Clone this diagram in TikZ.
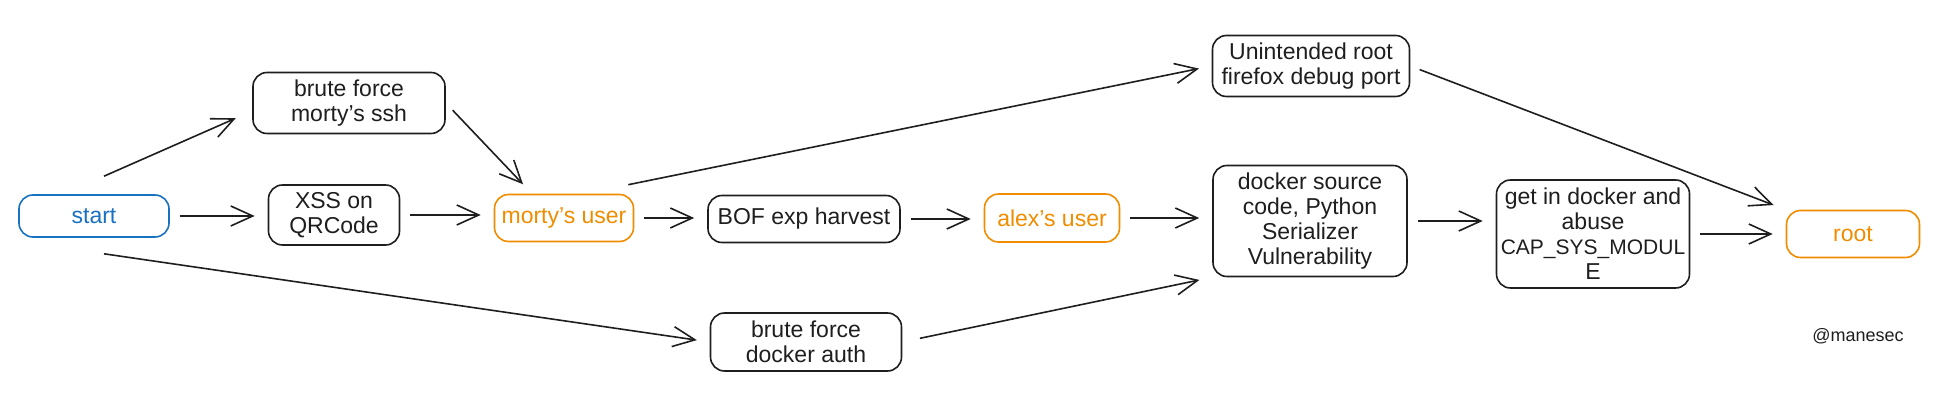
\documentclass[tikz,border=0pt]{standalone}
\usepackage{fontspec}
\setmainfont{Liberation Sans}
\usetikzlibrary{arrows.meta}
\definecolor{ink}{HTML}{1E1E1E}
\definecolor{sketchblue}{HTML}{1971C2}
\definecolor{sketchorange}{HTML}{F08C00}
\tikzset{
	box/.style={draw=ink, text=ink, line width=0.8pt, rounded corners=7pt, align=center, inner sep=2pt, font=\fontsize{11.5}{12.5}\selectfont},
	startbox/.style={box, draw=sketchblue, text=sketchblue},
	userbox/.style={box, draw=sketchorange, text=sketchorange},
	arrow/.style={draw=ink, line width=0.8pt, -{Straight Barb[length=11pt, width=10pt]}, shorten <=5pt, shorten >=6.5pt},
}
\begin{document}
\begin{tikzpicture}[x=0.5pt, y=-0.5pt]
	\useasboundingbox (0,0) rectangle (1938,405);
	\node[startbox, minimum width=75pt, minimum height=21pt] (start) at (94,216) {start};
	\node[box, minimum width=96pt, minimum height=30.5pt] (ssh) at (349,103) {brute force\\morty's ssh};
	\node[box, minimum width=65.5pt, minimum height=30pt] (xss) at (334,215) {XSS on\\QRCode};
	\node[userbox, minimum width=69.5pt, minimum height=23.5pt] (morty) at (564,218) {morty's user};
	\node[box, minimum width=96pt, minimum height=23.5pt] (bof) at (804,219) {BOF exp harvest};
	\node[userbox, minimum width=67.5pt, minimum height=24pt] (alex) at (1052,218) {alex's user};
	\node[box, minimum width=98.5pt, minimum height=30.5pt] (unint) at (1311,66) {Unintended root\\firefox debug port};
	\node[box, minimum width=97pt, minimum height=55.5pt] (docker) at (1310,221) {docker source\\code, Python\\Serializer\\Vulnerability};
	\node[box, minimum width=95.5pt, minimum height=29pt] (bfdocker) at (806,342) {brute force\\docker auth};
	\node[box, minimum width=96.5pt, minimum height=54pt] (getin) at (1593,234) {get in docker and\\abuse\\{\fontsize{10.5}{12.5}\selectfont CAP\_SYS\_MODUL}\\E};
	\node[userbox, minimum width=66.5pt, minimum height=23.5pt] (root) at (1853,234) {root};
	\node[text=ink, font=\fontsize{9}{11}\selectfont] (tag) at (1858,336) {@manesec};

	\foreach \a/\b in {start/xss, xss/morty, morty/bof, bof/alex, alex/docker, docker/getin, getin/root}
		\draw[arrow] (\a.east) -- (\a.east -| \b.west);
	\draw[arrow, shorten <=0pt, shorten >=9pt] ([xshift=5pt, yshift=9pt]start.north) -- ([yshift=-4pt]ssh.west);
	\draw[arrow, shorten <=0pt] ([xshift=5pt, yshift=-8pt]start.south) -- (bfdocker.west);
	\draw[arrow] (ssh.east) -- ([xshift=-16pt]morty.north);
	\draw[arrow, shorten <=0pt] ([xshift=-3pt, yshift=4.5pt]morty.north east) -- (unint.west);
	\draw[arrow, shorten <=9pt] (bfdocker.east) -- (docker.south west);
	\draw[arrow] (unint.east) -- (root.north west);
\end{tikzpicture}
\end{document}
